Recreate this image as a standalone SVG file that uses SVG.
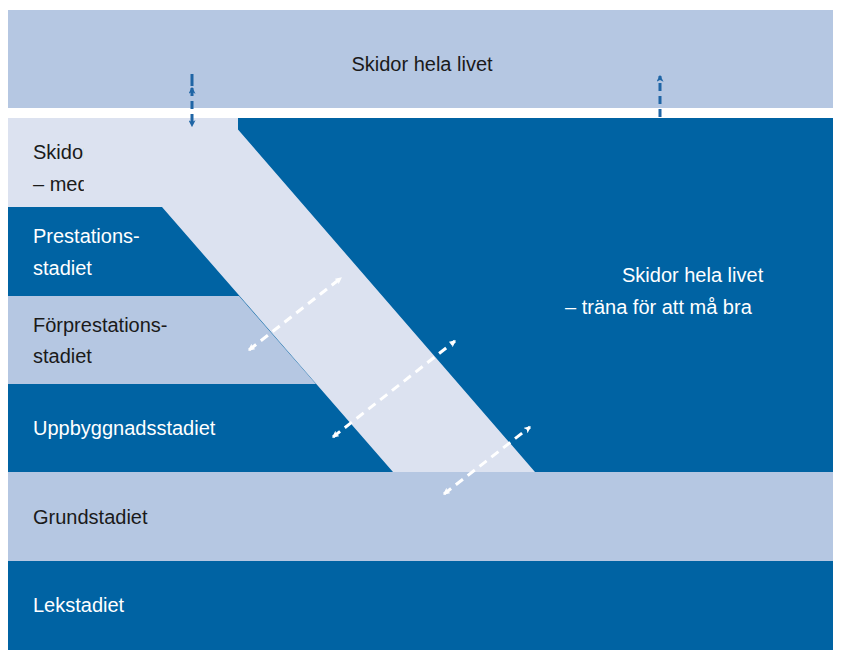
<svg xmlns="http://www.w3.org/2000/svg" width="844" height="665" viewBox="0 0 844 665">
<defs>
<style>
.t{font-family:"Liberation Sans",Arial,sans-serif;font-size:20px}
.d{fill:#0063a3}.m{fill:#b5c7e2}.l{fill:#dce2f0}
.w{fill:#fff}.k{fill:#1a1a1a}
.wa{stroke:#fff;stroke-width:3;stroke-dasharray:9,6;fill:none}
.ba{stroke:#1f65a5;stroke-width:3;stroke-dasharray:8,5;fill:none}
</style>
<marker id="aw" viewBox="0 0 12 12" refX="10" refY="6" markerWidth="7" markerHeight="7" orient="auto-start-reverse" markerUnits="userSpaceOnUse"><path d="M0,0 L12,6 L0,12 L3,6 Z" fill="#fff"/></marker>
<marker id="ab" viewBox="0 0 12 12" refX="10" refY="6" markerWidth="7" markerHeight="7" orient="auto-start-reverse" markerUnits="userSpaceOnUse"><path d="M0,0 L12,6 L0,12 L3,6 Z" fill="#1f65a5"/></marker>
</defs>
<rect width="844" height="665" fill="#fff"/>
<g id="top"><rect x="8" y="10" width="825" height="98" class="m"/><text x="422" y="71" class="t k" text-anchor="middle">Skidor hela livet</text></g>
<g id="bg"><rect x="8" y="118" width="825" height="354" class="d"/></g>
<g id="tavling"><rect x="8" y="118" width="230" height="89" class="l"/><text x="33" y="159" class="t k">Skidor hela livet</text><text x="33" y="191" class="t k">– med tävlingsinslag</text></g>
<g id="prestation"><polygon points="8,207 162,207 239,296 8,296" class="d"/><text x="33" y="243" class="t w">Prestations-</text><text x="33" y="275" class="t w">stadiet</text></g>
<g id="forprestation"><polygon points="8,296 239,296 316,384 8,384" class="m"/><text x="33" y="332" class="t k">Förprestations-</text><text x="33" y="363" class="t k">stadiet</text></g>
<g id="uppbyggnad"><rect x="8" y="384" width="320" height="88" class="d"/><text x="33" y="435" class="t w">Uppbyggnadsstadiet</text></g>
<g id="band"><polygon points="84,118 228,118 535,472 393,472 162,207 84,207" class="l"/></g>
<g id="right"><text x="622" y="282" class="t w">Skidor hela livet</text><text x="565" y="314" class="t w">– träna för att må bra</text></g>
<g id="grund"><rect x="8" y="472" width="825" height="89" class="m"/><text x="33" y="524" class="t k">Grundstadiet</text></g>
<g id="lek"><rect x="8" y="561" width="825" height="89" class="d"/><text x="33" y="612" class="t w">Lekstadiet</text></g>
<g id="connectors">
<line x1="192" y1="88" x2="192" y2="126" class="ba" marker-start="url(#ab)" marker-end="url(#ab)" transform="translate(0,0)"/>
<line x1="192" y1="86" x2="192" y2="74" stroke="#1f65a5" stroke-width="3"/>
<line x1="660" y1="117" x2="660" y2="76" class="ba" marker-end="url(#ab)"/>
<line x1="249" y1="350" x2="341" y2="278" class="wa" marker-start="url(#aw)" marker-end="url(#aw)"/>
<line x1="333" y1="437" x2="455" y2="341" class="wa" marker-start="url(#aw)" marker-end="url(#aw)"/>
<line x1="444" y1="494" x2="530" y2="427" class="wa" marker-start="url(#aw)" marker-end="url(#aw)"/>
</g>
</svg>
